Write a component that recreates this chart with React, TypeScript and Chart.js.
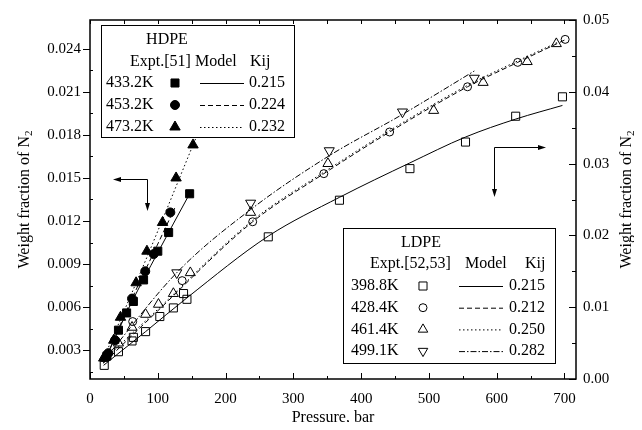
import React, { useEffect, useRef } from "react";
import { Chart, registerables } from "chart.js";
Chart.register(...registerables);

const FONT = "'Liberation Serif', 'Times New Roman', serif";

// tick labels
const xTicks = [0, 100, 200, 300, 400, 500, 600, 700];
const leftTicks = [0.003, 0.006, 0.009, 0.012, 0.015, 0.018, 0.021, 0.024];
const rightTicks = [0, 0.01, 0.02, 0.03, 0.04, 0.05];

// HDPE experimental (left axis)
const hdpe433P = [25, 42, 54, 64, 79, 100, 116, 147];
const hdpe433W = [0.0026, 0.0044, 0.0056, 0.0064, 0.0079, 0.0099, 0.0112, 0.0139];
const hdpe453P = [27, 37, 62, 81.5, 94, 118.5];
const hdpe453W = [0.0028, 0.0037, 0.0066, 0.0085, 0.0097, 0.0126];
const hdpe473P = [21, 35, 45, 68, 84, 107, 127, 152];
const hdpe473W = [0.0025, 0.0037, 0.0053, 0.0077, 0.0099, 0.0119, 0.015, 0.0173];

// HDPE model (left axis)
const hdpeM433P = [20, 60, 100, 147];
const hdpeM433W = [0.0021, 0.0062, 0.0098, 0.0139];
const hdpeM453P = [20, 60, 100, 125];
const hdpeM453W = [0.0021, 0.0064, 0.0104, 0.0129];
const hdpeM473P = [18, 60, 100, 152, 166];
const hdpeM473W = [0.0022, 0.0068, 0.0113, 0.0173, 0.0189];

// LDPE experimental (right axis)
const ldpe399P = [21, 42, 62, 64, 82, 103, 123, 138, 143, 263, 368, 472, 554, 628, 697];
const ldpe399W = [0.0019, 0.0038, 0.0053, 0.0058, 0.0066, 0.0087, 0.0099, 0.0119, 0.0111, 0.0198, 0.0249, 0.0293, 0.033, 0.0366, 0.0393];
const ldpe428P = [63, 136, 240, 345, 442, 557, 631, 701];
const ldpe428W = [0.008, 0.0137, 0.0219, 0.0286, 0.0344, 0.0407, 0.0441, 0.0473];
const ldpe461P = [20, 42, 62, 82, 101, 123, 148, 237, 351, 507, 580, 645, 688];
const ldpe461W = [0.0029, 0.005, 0.0072, 0.009, 0.0104, 0.0119, 0.0148, 0.0232, 0.03, 0.0374, 0.0413, 0.0442, 0.0467];
const ldpe499P = [128, 237, 353, 461, 567];
const ldpe499W = [0.0148, 0.0245, 0.0318, 0.0372, 0.0419];

// LDPE model (right axis)
const ldpeM399P = [20, 82, 143, 263, 368, 472, 554, 628, 697];
const ldpeM399W = [0.0019, 0.0066, 0.0113, 0.0199, 0.0253, 0.0301, 0.0337, 0.0362, 0.0381];
const ldpeM428P = [22, 100, 240, 345, 442, 557, 631, 700];
const ldpeM428W = [0.0024, 0.0095, 0.0219, 0.0286, 0.0344, 0.0407, 0.0441, 0.0472];
const ldpeM461P = [20, 100, 240, 345, 442, 557, 631, 690];
const ldpeM461W = [0.0026, 0.0097, 0.0221, 0.0288, 0.0346, 0.0409, 0.0443, 0.0469];
const ldpeM499P = [22, 130, 237, 353, 460, 567];
const ldpeM499W = [0.0028, 0.015, 0.0236, 0.0311, 0.0368, 0.0429];

const hdpeLegend = [
  { t: "433.2K", m: "rect", k: "0.215", dash: [] as number[] },
  { t: "453.2K", m: "circle", k: "0.224", dash: [5, 3] },
  { t: "473.2K", m: "triangle", k: "0.232", dash: [1.5, 2.5] },
];
const ldpeLegend = [
  { t: "398.8K", m: "rect", k: "0.215", dash: [] as number[] },
  { t: "428.4K", m: "circle", k: "0.212", dash: [5, 3] },
  { t: "461.4K", m: "triangle", k: "0.250", dash: [1.5, 2.5] },
  { t: "499.1K", m: "down", k: "0.282", dash: [6, 2, 1.5, 2] },
];

const pts = (xs: number[], ys: number[]) => xs.map((x, i) => ({ x, y: ys[i] }));

function markerDS(xs: number[], ys: number[], style: string, filled: boolean, axis: string, radius: number, rot = 0) {
  return {
    type: "scatter",
    data: pts(xs, ys),
    yAxisID: axis,
    pointStyle: style,
    pointRadius: radius,
    pointHoverRadius: radius,
    pointRotation: rot,
    backgroundColor: filled ? "#000" : "rgba(255,255,255,0)",
    borderColor: "#000",
    borderWidth: 1,
    showLine: false,
    order: 0,
  };
}
function lineDS(xs: number[], ys: number[], dash: number[], axis: string) {
  return {
    type: "line",
    data: pts(xs, ys),
    yAxisID: axis,
    borderColor: "#000",
    borderWidth: 1,
    borderDash: dash,
    pointRadius: 0,
    showLine: true,
    fill: false,
    cubicInterpolationMode: "monotone",
    order: 1,
  };
}

function drawMarker(ctx: CanvasRenderingContext2D, kind: string, x: number, y: number, filled: boolean, r: number) {
  ctx.save();
  ctx.beginPath();
  if (kind === "rect") {
    const s = r * Math.SQRT1_2;
    ctx.rect(x - s, y - s, 2 * s, 2 * s);
  } else if (kind === "circle") {
    ctx.arc(x, y, r, 0, Math.PI * 2);
  } else if (kind === "triangle") {
    ctx.moveTo(x, y - r);
    ctx.lineTo(x + 0.866 * r, y + 0.5 * r);
    ctx.lineTo(x - 0.866 * r, y + 0.5 * r);
    ctx.closePath();
  } else {
    ctx.moveTo(x, y + r);
    ctx.lineTo(x - 0.866 * r, y - 0.5 * r);
    ctx.lineTo(x + 0.866 * r, y - 0.5 * r);
    ctx.closePath();
  }
  ctx.lineWidth = 1;
  ctx.strokeStyle = "#000";
  if (filled) {
    ctx.fillStyle = "#000";
    ctx.fill();
  }
  ctx.stroke();
  ctx.restore();
}

function arrowHead(ctx: CanvasRenderingContext2D, x: number, y: number, dir: string) {
  ctx.beginPath();
  const L = 8, W = 2.5;
  if (dir === "left") { ctx.moveTo(x, y); ctx.lineTo(x + L, y - W); ctx.lineTo(x + L, y + W); }
  if (dir === "right") { ctx.moveTo(x, y); ctx.lineTo(x - L, y - W); ctx.lineTo(x - L, y + W); }
  if (dir === "down") { ctx.moveTo(x, y); ctx.lineTo(x - W, y - L); ctx.lineTo(x + W, y - L); }
  ctx.closePath();
  ctx.fill();
}

function drawVTitle(ctx: CanvasRenderingContext2D, cx: number, cy: number) {
  ctx.save();
  ctx.translate(cx, cy);
  ctx.rotate(-Math.PI / 2);
  const main = "Weight fraction of N";
  ctx.font = `16px ${FONT}`;
  const w1 = ctx.measureText(main).width;
  ctx.font = `11px ${FONT}`;
  const w2 = ctx.measureText("2").width;
  const start = -(w1 + w2) / 2;
  ctx.textBaseline = "middle";
  ctx.textAlign = "left";
  ctx.fillStyle = "#000";
  ctx.font = `16px ${FONT}`;
  ctx.fillText(main, start, 0);
  ctx.font = `11px ${FONT}`;
  ctx.fillText("2", start + w1, 4);
  ctx.restore();
}

const decorPlugin = {
  id: "decor",
  afterDraw(chart: any) {
    const ctx: CanvasRenderingContext2D = chart.ctx;
    const { left, right, top, bottom } = chart.chartArea;
    const xs = chart.scales.x;
    const yl = chart.scales.y;
    const yr = chart.scales.y2;
    ctx.save();
    ctx.strokeStyle = "#000";
    ctx.fillStyle = "#000";
    // ticks
    ctx.lineWidth = 1;
    ctx.beginPath();
    for (let v = 0; v <= 700; v += 50) {
      const px = Math.round(xs.getPixelForValue(v)) + 0.5;
      const len = v % 100 === 0 ? 6 : 3;
      ctx.moveTo(px, bottom); ctx.lineTo(px, bottom - len);
      ctx.moveTo(px, top); ctx.lineTo(px, top + 4);
    }
    leftTicks.forEach((v) => {
      const py = Math.round(yl.getPixelForValue(v)) + 0.5;
      ctx.moveTo(left, py); ctx.lineTo(left - 7, py);
      const pm = Math.round(yl.getPixelForValue(v - 0.0015)) + 0.5;
      ctx.moveTo(left, pm); ctx.lineTo(left + 3, pm);
    });
    rightTicks.forEach((v) => {
      const py = Math.round(yr.getPixelForValue(v)) + 0.5;
      ctx.moveTo(right, py); ctx.lineTo(right - 7, py);
      if (v < 0.05) {
        const pm = Math.round(yr.getPixelForValue(v + 0.005)) + 0.5;
        ctx.moveTo(right, pm); ctx.lineTo(right - 4, pm);
      }
    });
    ctx.stroke();
    // frame
    ctx.lineWidth = 1.5;
    ctx.strokeRect(left, top, right - left, bottom - top);

    // arrows
    ctx.lineWidth = 1;
    ctx.beginPath();
    ctx.moveTo(115, 179.5); ctx.lineTo(147.5, 179.5); ctx.lineTo(147.5, 209);
    ctx.moveTo(494.5, 195); ctx.lineTo(494.5, 147.5); ctx.lineTo(544, 147.5);
    ctx.stroke();
    arrowHead(ctx, 113, 179.5, "left");
    arrowHead(ctx, 147.5, 211, "down");
    arrowHead(ctx, 546, 147.5, "right");
    arrowHead(ctx, 494.5, 197, "down");

    // HDPE legend
    ctx.fillStyle = "#fff";
    ctx.fillRect(101, 25, 193, 112);
    ctx.lineWidth = 1;
    ctx.strokeStyle = "#000";
    ctx.strokeRect(101.5, 25.5, 193, 112);
    ctx.fillStyle = "#000";
    ctx.font = `16px ${FONT}`;
    ctx.textBaseline = "middle";
    ctx.textAlign = "center";
    ctx.fillText("HDPE", 167, 40);
    ctx.textAlign = "left";
    ctx.fillText("Expt.[51]", 130, 62);
    ctx.fillText("Model", 195, 62);
    ctx.fillText("Kij", 250, 62);
    hdpeLegend.forEach((r, i) => {
      const y = 83 + i * 22;
      ctx.fillStyle = "#000";
      ctx.fillText(r.t, 106, y);
      drawMarker(ctx, r.m, 175, y, true, r.m === "rect" ? 5.7 : r.m === "circle" ? 4.5 : 6);
      ctx.beginPath();
      ctx.setLineDash(r.dash);
      ctx.moveTo(200, y + 0.5); ctx.lineTo(244, y + 0.5);
      ctx.stroke();
      ctx.setLineDash([]);
      ctx.fillText(r.k, 249, y);
    });

    // LDPE legend
    ctx.fillStyle = "#fff";
    ctx.fillRect(343, 228, 212, 135);
    ctx.strokeRect(343.5, 228.5, 212, 135);
    ctx.fillStyle = "#000";
    ctx.textAlign = "center";
    ctx.fillText("LDPE", 421, 243);
    ctx.textAlign = "left";
    ctx.fillText("Expt.[52,53]", 370, 264);
    ctx.fillText("Model", 465, 264);
    ctx.fillText("Kij", 525, 264);
    ldpeLegend.forEach((r, i) => {
      const y = 286 + i * 21.7;
      ctx.fillStyle = "#000";
      ctx.fillText(r.t, 351, y);
      drawMarker(ctx, r.m, 423, y, false, r.m === "rect" ? 5.7 : r.m === "circle" ? 4 : 5.5);
      ctx.beginPath();
      ctx.setLineDash(r.dash);
      ctx.moveTo(459, y + 0.5); ctx.lineTo(503, y + 0.5);
      ctx.stroke();
      ctx.setLineDash([]);
      ctx.fillText(r.k, 509, y);
    });

    // titles
    ctx.textAlign = "center";
    ctx.textBaseline = "middle";
    ctx.font = `16px ${FONT}`;
    ctx.fillText("Pressure, bar", (left + right) / 2, 418);
    drawVTitle(ctx, 25, (top + bottom) / 2);
    drawVTitle(ctx, 627, (top + bottom) / 2);
    ctx.restore();
  },
};

export default function App() {
  const ref = useRef<HTMLCanvasElement>(null);
  useEffect(() => {
    if (!ref.current) return;
    const tickFont = { family: FONT, size: 15 };
    const chart = new Chart(ref.current, {
      type: "scatter",
      data: {
        datasets: [
          markerDS(hdpe433P, hdpe433W, "rect", true, "y", 5.7),
          markerDS(hdpe453P, hdpe453W, "circle", true, "y", 4.5),
          markerDS(hdpe473P, hdpe473W, "triangle", true, "y", 6),
          markerDS(ldpe399P, ldpe399W, "rect", false, "y2", 5.7),
          markerDS(ldpe428P, ldpe428W, "circle", false, "y2", 4),
          markerDS(ldpe461P, ldpe461W, "triangle", false, "y2", 5.8),
          markerDS(ldpe499P, ldpe499W, "triangle", false, "y2", 5.8, 180),
          lineDS(hdpeM433P, hdpeM433W, [], "y"),
          lineDS(hdpeM453P, hdpeM453W, [5, 3], "y"),
          lineDS(hdpeM473P, hdpeM473W, [1.5, 2.5], "y"),
          lineDS(ldpeM399P, ldpeM399W, [], "y2"),
          lineDS(ldpeM428P, ldpeM428W, [5, 3], "y2"),
          lineDS(ldpeM461P, ldpeM461W, [1.5, 2.5], "y2"),
          lineDS(ldpeM499P, ldpeM499W, [6, 2, 1.5, 2], "y2"),
        ] as any,
      },
      options: {
        responsive: false,
        animation: false,
        layout: { padding: { top: 20, left: 0, right: 0, bottom: 0 } },
        plugins: { legend: { display: false }, tooltip: { enabled: false } },
        scales: {
          x: {
            type: "linear",
            min: 0,
            max: 717,
            afterBuildTicks: (a: any) => { a.ticks = xTicks.map((v) => ({ value: v })); },
            afterFit: (s: any) => { s.height = 51; },
            ticks: { callback: (v: any) => String(v), font: tickFont, color: "#000", padding: 11, maxRotation: 0, autoSkip: false },
            grid: { display: false, drawTicks: false },
            border: { display: false },
          },
          y: {
            type: "linear",
            position: "left",
            min: 0.001,
            max: 0.026,
            afterBuildTicks: (a: any) => { a.ticks = leftTicks.map((v) => ({ value: v })); },
            afterFit: (s: any) => { s.width = 90; },
            ticks: { callback: (v: any) => Number(v).toFixed(3), font: tickFont, color: "#000", padding: 9, autoSkip: false },
            grid: { display: false, drawTicks: false },
            border: { display: false },
          },
          y2: {
            type: "linear",
            position: "right",
            min: 0,
            max: 0.05,
            afterBuildTicks: (a: any) => { a.ticks = rightTicks.map((v) => ({ value: v })); },
            afterFit: (s: any) => { s.width = 66; },
            ticks: { callback: (v: any) => Number(v).toFixed(2), font: tickFont, color: "#000", padding: 7, autoSkip: false },
            grid: { display: false, drawTicks: false },
            border: { display: false },
          },
        },
      } as any,
      plugins: [decorPlugin],
    });
    return () => chart.destroy();
  }, []);
  return (
    <div style={{ width: 642, height: 430, margin: -8, background: "#fff" }}>
      <canvas ref={ref} width={642} height={430} style={{ display: "block" }} />
    </div>
  );
}
